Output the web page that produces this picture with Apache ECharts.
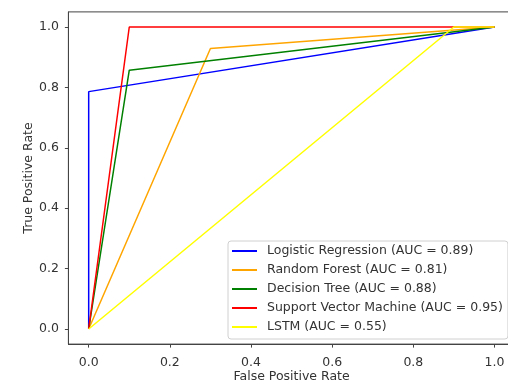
<!DOCTYPE html>
<html>
<head>
<meta charset="utf-8">
<script src="https://cdn.jsdelivr.net/npm/echarts@6/dist/echarts.min.js"></script>
<style>html,body{margin:0;padding:0;background:#fff}#c{width:508px;height:383px}</style>
</head>
<body>
<div id="c"></div>
<script>
// ROC curve points: [FPR, TPR]
const seriesNames = [
  'Logistic Regression (AUC = 0.89)',
  'Random Forest (AUC = 0.81)',
  'Decision Tree (AUC = 0.88)',
  'Support Vector Machine (AUC = 0.95)',
  'LSTM (AUC = 0.55)'
];
const lrFPR = [0, 0, 1];
const lrTPR = [0, 0.786, 1];
const rfFPR = [0, 0.3, 1];
const rfTPR = [0, 0.929, 1];
const dtFPR = [0, 0.1, 1];
const dtTPR = [0, 0.857, 1];
const svmFPR = [0, 0.1, 1];
const svmTPR = [0, 1, 1];
const lstmFPR = [0, 0.9, 1];
const lstmTPR = [0, 1, 1];
const tickValues = [0, 0.2, 0.4, 0.6, 0.8, 1.0];
const colors = ['#0000ff', '#ffa500', '#008000', '#ff0000', '#ffff00'];

const pairs = (xs, ys) => xs.map((x, i) => [x, ys[i]]);
const allData = [
  pairs(lrFPR, lrTPR), pairs(rfFPR, rfTPR), pairs(dtFPR, dtTPR),
  pairs(svmFPR, svmTPR), pairs(lstmFPR, lstmTPR)
];
const font = 'DejaVu Sans';
const fs = 12.5;
const axisCommon = {
  type: 'value', min: -0.05, max: 1.05,
  splitLine: { show: false },
  axisLine: { show: true, onZero: false, lineStyle: { color: '#444', width: 1 } },
  axisTick: { show: true, length: 3.5, customValues: tickValues, lineStyle: { color: '#444' } },
  axisLabel: { customValues: tickValues, color: '#333', fontFamily: font, fontSize: fs,
    formatter: v => v.toFixed(1) },
  nameLocation: 'middle',
  nameMoveOverlap: false,
  nameTextStyle: { color: '#333', fontFamily: font, fontSize: fs }
};
const chart = echarts.init(document.getElementById('c'), null, { renderer: 'canvas' });
chart.setOption({
  animation: false,
  backgroundColor: '#fff',
  grid: { left: 68.4, top: 11.9, width: 446.4, height: 332.2, show: true,
    outerBoundsMode: 'none', containLabel: false,
    borderColor: '#444', borderWidth: 1, backgroundColor: 'transparent' },
  xAxis: Object.assign({}, axisCommon, { name: 'False Positive Rate', nameGap: 26,
    axisLabel: Object.assign({}, axisCommon.axisLabel, { margin: 12 }) }),
  yAxis: Object.assign({}, axisCommon, { name: 'True Positive Rate', nameGap: 33,
    axisLabel: Object.assign({}, axisCommon.axisLabel, { margin: 9.5 }) }),
  legend: {
    orient: 'vertical', left: 228, top: 241,
    padding: [3, 5, 5, 4], itemGap: 5, itemWidth: 25, itemHeight: 2, itemTextGap: 10,
    icon: 'rect',
    backgroundColor: 'rgba(255,255,255,0.85)', borderColor: '#d0d0d0', borderWidth: 1, borderRadius: 3,
    textStyle: { color: '#333', fontFamily: font, fontSize: fs, lineHeight: 14, padding: [0, 0, 0, 5] },
    data: seriesNames
  },
  series: allData.map((d, i) => ({
    name: seriesNames[i], type: 'line', data: d, showSymbol: false, symbol: 'none',
    lineStyle: { color: colors[i], width: 1.5 }, itemStyle: { color: colors[i] },
    z: 2 + i
  }))
});
</script>
</body>
</html>
